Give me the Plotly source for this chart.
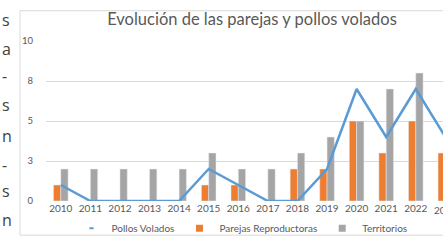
import plotly.graph_objects as go

years = ["2010", "2011", "2012", "2013", "2014", "2015", "2016", "2017",
         "2018", "2019", "2020", "2021", "2022", "2023"]
pollos_volados = [1, 0, 0, 0, 0, 2, 1, 0, 0, 2, 7, 4, 7, 4]
parejas_reproductoras = [1, 0, 0, 0, 0, 1, 1, 0, 2, 2, 5, 3, 5, 3]
territorios = [2, 2, 2, 2, 2, 3, 2, 2, 3, 4, 5, 7, 8, None]

y_tick_vals = [0, 2.5, 5, 7.5, 10]
y_tick_text = ["0", "3", "5", "8", "10"]

title_text = "Evolución de las parejas y pollos volados"
side_text = ["s", "a", "-", "s", "n", "-", "s", "n"]

BLUE = "#5B9BD5"
ORANGE = "#ED7D31"
GRAY = "#A5A5A5"
TXT = "#595959"
FONT = "Lato"

W, H = 443, 243
ML, MR, MT, MB = 46, 0, 41, 38
PW = W - ML - MR
PH = H - MT - MB
X_RANGE = [-0.5, 12.92]


def px_x(p):
    return (p - ML) / PW


def px_y(p):
    return (H - MB - p) / PH


def cat_to_paper(i):
    return (i - X_RANGE[0]) / (X_RANGE[1] - X_RANGE[0])


fig = go.Figure()

fig.add_trace(go.Bar(x=years, y=parejas_reproductoras, marker_color=ORANGE,
                     name="Parejas Reproductoras", showlegend=False))
fig.add_trace(go.Bar(x=years, y=territorios, marker_color=GRAY,
                     name="Territorios", showlegend=False))
fig.add_trace(go.Scatter(x=years, y=pollos_volados, mode="lines",
                         line=dict(color=BLUE, width=2.5),
                         name="Pollos Volados", showlegend=False))

# legend entries with compact symbols
fig.add_trace(go.Scatter(x=[None], y=[None], mode="markers", name="Pollos Volados",
                         marker=dict(symbol="line-ew", size=3,
                                     line=dict(color=BLUE, width=2))))
fig.add_trace(go.Scatter(x=[None], y=[None], mode="markers", name="Parejas Reproductoras",
                         marker=dict(symbol="square", size=7, color=ORANGE)))
fig.add_trace(go.Scatter(x=[None], y=[None], mode="markers", name="Territorios",
                         marker=dict(symbol="square", size=7, color=GRAY)))

annotations = []
side_y = [19, 49, 77, 107, 138, 168, 195, 224]
for t, yy in zip(side_text, side_y):
    annotations.append(dict(text=t, xref="paper", yref="paper", x=px_x(0), y=px_y(yy),
                            xanchor="left", yanchor="middle", showarrow=False,
                            font=dict(family="Open Sans", size=16, color="#404040")))

# last category label, partly beyond the visible range (as in the cropped original)
annotations.append(dict(text=years[-1], xref="paper", yref="paper",
                        x=cat_to_paper(len(years) - 1), y=px_y(214),
                        xanchor="center", yanchor="middle", showarrow=False,
                        font=dict(family=FONT, size=10, color=TXT)))

fig.update_layout(
    width=W, height=H,
    margin=dict(l=ML, r=MR, t=MT, b=MB, pad=0),
    paper_bgcolor="white", plot_bgcolor="white",
    font=dict(family=FONT, color=TXT),
    barmode="group", bargap=0.506, bargroupgap=0,
    title=dict(text=title_text, xref="container", yref="container",
               x=252 / W, y=1 - 19 / H, xanchor="center", yanchor="middle",
               font=dict(family=FONT, size=16.5, color=TXT)),
    xaxis=dict(type="category", range=X_RANGE, showgrid=False, zeroline=False,
               showline=False, ticks="", tickfont=dict(size=10, color=TXT)),
    yaxis=dict(range=[0, 10], tickvals=y_tick_vals, ticktext=y_tick_text,
               showgrid=True, gridcolor="#D9D9D9", gridwidth=1, zeroline=False,
               showline=False, ticks="", ticklabelstandoff=12,
               tickfont=dict(size=9.5, color=TXT)),
    legend=dict(orientation="h", x=px_x(242), y=px_y(233), xanchor="center",
                yanchor="middle", font=dict(size=10, color=TXT), itemwidth=30,
                bgcolor="rgba(0,0,0,0)"),
    shapes=[dict(type="rect", xref="paper", yref="paper", x0=px_x(20), x1=1.2,
                 y0=px_y(240), y1=px_y(10), line=dict(color="#D9D9D9", width=1),
                 layer="below")],
    annotations=annotations,
)

fig.write_html("out.html", config={"displayModeBar": False},
               post_script="document.documentElement.style.margin='0';"
                           "document.body.style.margin='0';"
                           "document.body.style.overflow='hidden';")
